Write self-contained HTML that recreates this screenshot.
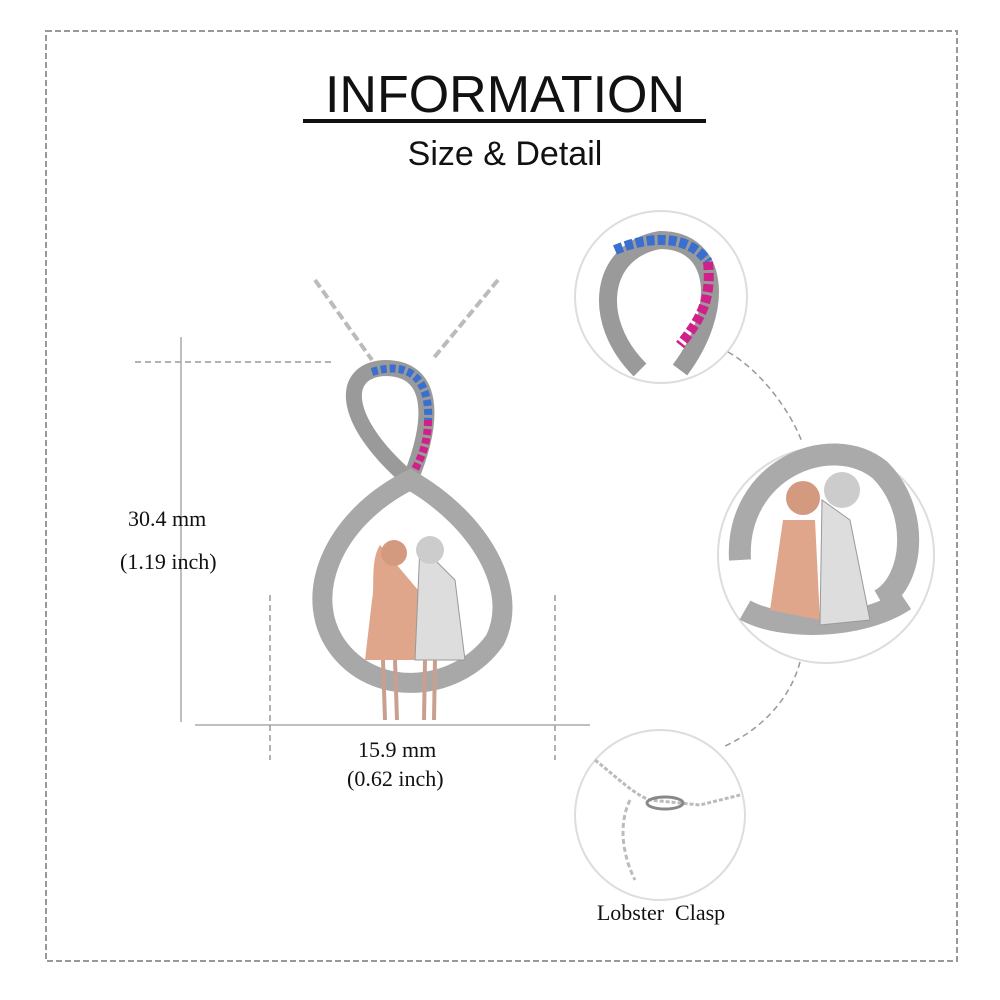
<!DOCTYPE html>
<html><head><meta charset="utf-8"><style>
html,body{margin:0;padding:0;background:#fff;}
svg{display:block}
</style></head><body>
<svg width="1000" height="1000" viewBox="0 0 1000 1000" xmlns="http://www.w3.org/2000/svg">
<rect x="46" y="31" width="911" height="930" fill="none" stroke="#999" stroke-width="2" stroke-dasharray="6,3"/>
<text x="505" y="112" text-anchor="middle" font-family="Liberation Sans, sans-serif" font-size="52" fill="#111">INFORMATION</text>
<rect x="303" y="119" width="403" height="4" fill="#111"/>
<text x="505" y="165" text-anchor="middle" font-family="Liberation Sans, sans-serif" font-size="34" fill="#111">Size &amp; Detail</text>

<!-- dimension lines -->
<line x1="135" y1="362" x2="335" y2="362" stroke="#999" stroke-width="1.5" stroke-dasharray="6,4"/>
<line x1="181" y1="337" x2="181" y2="722" stroke="#aaa" stroke-width="1.5"/>
<line x1="195" y1="725" x2="590" y2="725" stroke="#aaa" stroke-width="1.5"/>
<line x1="270" y1="595" x2="270" y2="760" stroke="#999" stroke-width="1.5" stroke-dasharray="6,4"/>
<line x1="555" y1="595" x2="555" y2="760" stroke="#999" stroke-width="1.5" stroke-dasharray="6,4"/>
<g font-family="Liberation Serif, serif" font-size="22" fill="#111">
<text x="128" y="526">30.4 mm</text>
<text x="120" y="569">(1.19 inch)</text>
<text x="358" y="757">15.9 mm</text>
<text x="347" y="786">(0.62 inch)</text>
</g>

<!-- chain -->
<path d="M315 280 L372 360 M498 280 L432 360" stroke="#bbb" stroke-width="4" stroke-dasharray="9,4" fill="none"/>
<!-- pendant -->
<g fill="none">
<path d="M410 480 C340 420 340 370 385 368 C435 368 435 420 410 480" stroke="#9a9a9a" stroke-width="16"/>
<path d="M372 372 C410 360 430 380 428 420" stroke="#3a6fd0" stroke-width="8" stroke-dasharray="6,3"/>
<path d="M428 420 C428 445 420 460 412 475" stroke="#d0208a" stroke-width="8" stroke-dasharray="6,3"/>
<path d="M410 480 C330 520 300 600 340 650 C380 700 460 690 495 640 C520 590 480 520 410 480 Z" stroke="#a8a8a8" stroke-width="20"/>
</g>
<path d="M380 545 C370 560 375 590 372 600 L365 660 L420 660 L418 590 Z" fill="#e0a68c"/>
<circle cx="394" cy="553" r="13" fill="#d49a80"/>
<path d="M420 545 L415 660 L465 660 L455 580 Z" fill="#ddd" stroke="#999"/>
<circle cx="430" cy="550" r="14" fill="#ccc"/>
<path d="M383 660 L385 720 M395 660 L397 720 M425 660 L424 720 M435 660 L434 720" stroke="#c9a090" stroke-width="4"/>

<!-- circles -->
<circle cx="661" cy="297" r="86" fill="#fff" stroke="#ddd" stroke-width="2"/>
<circle cx="826" cy="555" r="108" fill="#fff" stroke="#ddd" stroke-width="2"/>
<circle cx="660" cy="815" r="85" fill="#fff" stroke="#ddd" stroke-width="2"/>
<path d="M640 370 C590 320 600 250 660 240 C720 240 725 310 680 370" fill="none" stroke="#9a9a9a" stroke-width="18"/>
<path d="M615 250 C650 235 690 235 708 262" fill="none" stroke="#3a6fd0" stroke-width="10" stroke-dasharray="8,3"/>
<path d="M708 262 C712 300 700 320 680 345" fill="none" stroke="#d0208a" stroke-width="10" stroke-dasharray="8,3"/>
<path d="M740 560 C735 470 830 430 880 470 C920 510 915 580 880 600" fill="none" stroke="#aaa" stroke-width="22"/>
<path d="M745 610 C780 630 860 630 905 600" fill="none" stroke="#aaa" stroke-width="22"/>
<path d="M783 520 L770 610 L820 620 L815 520 Z" fill="#e0a68c"/>
<circle cx="803" cy="498" r="17" fill="#d49a80"/>
<path d="M822 500 L820 625 L870 620 L850 520 Z" fill="#ddd" stroke="#999"/>
<circle cx="842" cy="490" r="18" fill="#ccc"/>
<path d="M595 760 C620 780 635 795 650 800 L700 805 L740 795" fill="none" stroke="#bbb" stroke-width="3" stroke-dasharray="4,2"/>
<path d="M630 800 C620 820 620 850 635 880" fill="none" stroke="#bbb" stroke-width="3" stroke-dasharray="5,3"/>
<ellipse cx="665" cy="803" rx="18" ry="6" fill="none" stroke="#888" stroke-width="3"/>

<!-- connectors -->
<path d="M728 352 C760 370 790 410 802 442" fill="none" stroke="#999" stroke-width="1.5" stroke-dasharray="6,4"/>
<path d="M800 662 C790 700 760 730 725 746" fill="none" stroke="#999" stroke-width="1.5" stroke-dasharray="6,4"/>
<text x="661" y="920" text-anchor="middle" font-family="Liberation Serif, serif" font-size="22" fill="#111" style="white-space:pre">Lobster  Clasp</text>
</svg>
</body></html>
